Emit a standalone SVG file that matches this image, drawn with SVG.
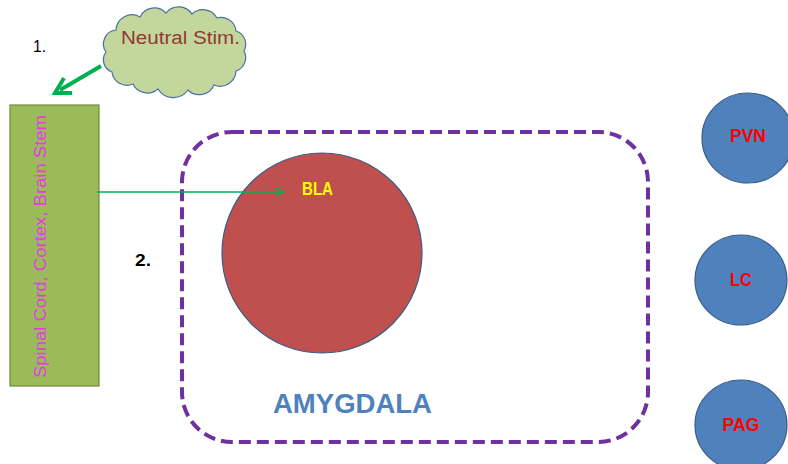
<svg xmlns="http://www.w3.org/2000/svg" width="788" height="464" viewBox="0 0 788 464">
<style>
.lbl{font-family:"Liberation Sans",Arial,sans-serif;}
.nuc{fill:#4F81BD;stroke:#385D8A;stroke-width:1.2;}
.nuct{font-family:"Liberation Sans",Arial,sans-serif;font-weight:bold;font-size:18px;fill:#FF0000;text-anchor:middle;}
</style>
<defs>
<marker id="thin" markerWidth="10" markerHeight="10" refX="9" refY="5" orient="auto" markerUnits="userSpaceOnUse" viewBox="0 0 10 10">
<path d="M1,1 L9,5 L1,9" fill="none" stroke="#00B050" stroke-width="1.5"/>
</marker>
</defs>
<rect width="788" height="464" fill="#FFFFFF"/>
<text class="lbl" x="33" y="52" font-size="16" fill="#000" textLength="13" lengthAdjust="spacingAndGlyphs">1.</text>
<text class="lbl" x="135" y="266" font-size="17" font-weight="bold" fill="#000" textLength="16" lengthAdjust="spacingAndGlyphs">2.</text>
<g id="neutral-stim">
<path d="M106,52 A14,14 0 0 1 116,30 A16,16 0 0 1 140,17 A16,16 0 0 1 166,13 A16,16 0 0 1 192,14 A16,16 0 0 1 217,18 A15,15 0 0 1 236,31 A14,14 0 0 1 244,51 A14,14 0 0 1 236,71 A16,16 0 0 1 214,85 A16,16 0 0 1 188,90 A18,18 0 0 1 158,89 A16,16 0 0 1 133,84 A15,15 0 0 1 112,72 A13,13 0 0 1 106,52 Z" fill="#C3D69B" stroke="#4A6FA5" stroke-width="1.2"/>
<text class="lbl" x="121" y="44" font-size="18" fill="#953735" textLength="119" lengthAdjust="spacingAndGlyphs">Neutral Stim.</text>
</g>
<g id="spinal">
<rect x="10" y="105" width="89" height="281" fill="#9BBB59" stroke="#71893F" stroke-width="1.2"/>
<text class="lbl" transform="translate(46,378) rotate(-90)" x="0" y="0" font-size="17" fill="#E838E8" textLength="263" lengthAdjust="spacingAndGlyphs">Spinal Cord, Cortex, Brain Stem</text>
</g>
<g id="amygdala">
<rect x="182" y="132" width="466" height="310" rx="50" ry="50" fill="none" stroke="#7030A0" stroke-width="4" stroke-dasharray="12,6"/>
<text class="lbl" x="273" y="413" font-size="27" font-weight="bold" fill="#4F81BD" textLength="159" lengthAdjust="spacingAndGlyphs">AMYGDALA</text>
</g>
<g id="bla">
<circle cx="322" cy="253" r="100" fill="#C0504D" stroke="#385D8A" stroke-width="1.2"/>
<text class="lbl" x="302" y="195" font-size="18" font-weight="bold" fill="#FFFF00" textLength="31" lengthAdjust="spacingAndGlyphs">BLA</text>
</g>
<g id="pvn">
<ellipse class="nuc" cx="748" cy="138" rx="46" ry="45"/>
<text class="nuct" x="748" y="142" textLength="36" lengthAdjust="spacingAndGlyphs">PVN</text>
</g>
<g id="lc">
<ellipse class="nuc" cx="741" cy="280" rx="46" ry="45"/>
<text class="nuct" x="741" y="286" textLength="22" lengthAdjust="spacingAndGlyphs">LC</text>
</g>
<g id="pag">
<ellipse class="nuc" cx="741" cy="425" rx="46" ry="45"/>
<text class="nuct" x="741" y="431" textLength="37" lengthAdjust="spacingAndGlyphs">PAG</text>
</g>
<g id="connectors">
<line x1="101" y1="66" x2="60" y2="90" stroke="#00B050" stroke-width="4"/>
<path d="M64,78 L55,93 L72,93" fill="none" stroke="#00B050" stroke-width="4" stroke-linejoin="miter"/>
<line x1="97" y1="192" x2="284" y2="192" stroke="#00B050" stroke-width="1.5" marker-end="url(#thin)"/>
</g>
</svg>
